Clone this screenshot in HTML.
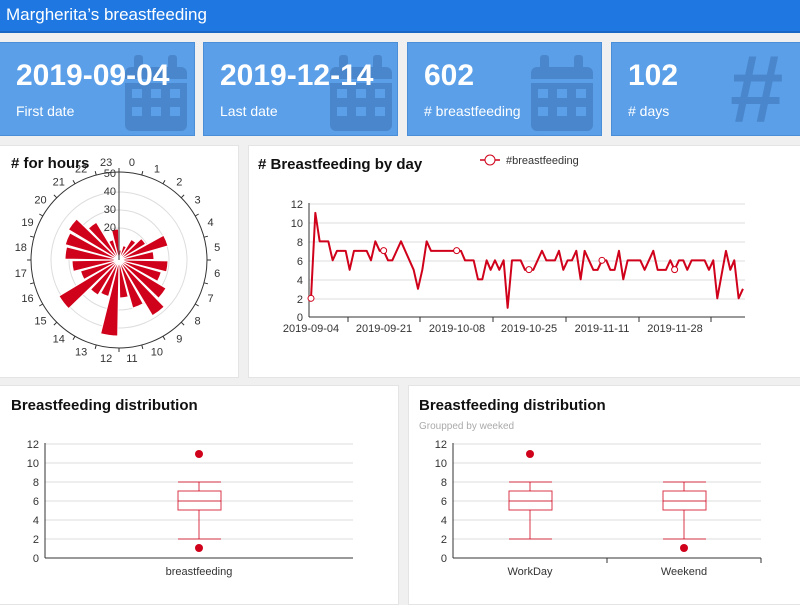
<!DOCTYPE html>
<html><head><meta charset="utf-8"><style>
*{margin:0;padding:0;box-sizing:border-box}
body{width:800px;height:600px;overflow:hidden;background:#f0f0f0;font-family:"Liberation Sans",sans-serif;position:relative}
.hdr{position:absolute;left:0;top:0;width:800px;height:33px;background:#1f78e1;border-bottom:2px solid #1a66c4;color:#fff;font-size:17px;padding:5px 6px}
.card{position:absolute;top:42px;height:94px;background:#5a9fe8;border:1px solid #4a8ed8;color:#fff;overflow:hidden}
.card .v{position:absolute;left:16px;top:16px;font-size:30px;font-weight:bold}
.card .l{position:absolute;left:16px;top:60px;font-size:14px}
.ic{position:absolute;top:12px}
.pan{position:absolute;background:#fff;border:1px solid #e4e4e4}
.t{position:absolute;font-weight:bold;font-size:16px;color:#111}
svg text{font-family:"Liberation Sans",sans-serif}
</style></head><body>
<div class="hdr">Margherita’s breastfeeding</div>
<div class="card" style="left:-1px;width:196px"><svg class="ic" style="left:120px" width="76" height="80"><g fill="#4a86cc"><rect x="5" y="12" width="62" height="64" rx="6"/><rect x="14" y="0" width="9" height="16" rx="3"/><rect x="48" y="0" width="9" height="16" rx="3"/></g><g fill="#5a9fe8"><rect x="5" y="24" width="62" height="4"/><rect x="12" y="34" width="10" height="9"/><rect x="31" y="34" width="10" height="9"/><rect x="50" y="34" width="10" height="9"/><rect x="12" y="52" width="10" height="9"/><rect x="31" y="52" width="10" height="9"/><rect x="50" y="52" width="10" height="9"/></g></svg><div class="v">2019-09-04</div><div class="l">First date</div></div>
<div class="card" style="left:203px;width:195px"><svg class="ic" style="left:121px" width="76" height="80"><g fill="#4a86cc"><rect x="5" y="12" width="62" height="64" rx="6"/><rect x="14" y="0" width="9" height="16" rx="3"/><rect x="48" y="0" width="9" height="16" rx="3"/></g><g fill="#5a9fe8"><rect x="5" y="24" width="62" height="4"/><rect x="12" y="34" width="10" height="9"/><rect x="31" y="34" width="10" height="9"/><rect x="50" y="34" width="10" height="9"/><rect x="12" y="52" width="10" height="9"/><rect x="31" y="52" width="10" height="9"/><rect x="50" y="52" width="10" height="9"/></g></svg><div class="v">2019-12-14</div><div class="l">Last date</div></div>
<div class="card" style="left:407px;width:195px"><svg class="ic" style="left:118px" width="76" height="80"><g fill="#4a86cc"><rect x="5" y="12" width="62" height="64" rx="6"/><rect x="14" y="0" width="9" height="16" rx="3"/><rect x="48" y="0" width="9" height="16" rx="3"/></g><g fill="#5a9fe8"><rect x="5" y="24" width="62" height="4"/><rect x="12" y="34" width="10" height="9"/><rect x="31" y="34" width="10" height="9"/><rect x="50" y="34" width="10" height="9"/><rect x="12" y="52" width="10" height="9"/><rect x="31" y="52" width="10" height="9"/><rect x="50" y="52" width="10" height="9"/></g></svg><div class="v">602</div><div class="l"># breastfeeding</div></div>
<div class="card" style="left:611px;width:195px"><div style="position:absolute;left:118px;top:-8px;font-size:96px;font-weight:bold;color:#4a86cc">#</div><div class="v">102</div><div class="l"># days</div></div>

<div class="pan" style="left:-1px;top:145px;width:240px;height:233px"></div>
<div class="pan" style="left:248px;top:145px;width:560px;height:233px"></div>
<div class="pan" style="left:-1px;top:385px;width:400px;height:220px"></div>
<div class="pan" style="left:408px;top:385px;width:400px;height:220px"></div>

<svg style="position:absolute;left:0;top:0" width="800" height="600">
<g id="rose" transform="translate(119,260)">
<g fill="none" stroke="#ddd"><circle r="32"/><circle r="50"/><circle r="68"/></g>
<g fill="#d0021b" stroke="#fff" stroke-width="1" id="w"></g>
<circle r="88" fill="none" stroke="#333"/>
<line x1="0" y1="0" x2="0" y2="-88" stroke="#333"/>
<g font-size="11" fill="#333" text-anchor="end"><text x="-3" y="-83">50</text><text x="-3" y="-65">40</text><text x="-3" y="-47">30</text><text x="-3" y="-29">20</text></g>
<g id="hl" font-size="11" fill="#333" text-anchor="middle"></g>
</g>
<text x="11" y="168" font-size="15" font-weight="bold" fill="#111"># for hours</text>

<text x="258" y="169" font-size="15" font-weight="bold" fill="#111"># Breastfeeding by day</text>
<line x1="480" y1="160" x2="500" y2="160" stroke="#d0021b" stroke-width="1.5"/><circle cx="490" cy="160" r="5" fill="#fff" stroke="#d0021b"/>
<text x="506" y="164" font-size="11" fill="#333">#breastfeeding</text>
<g stroke="#ddd"><line x1="309" x2="745" y1="204" y2="204"/><line x1="309" x2="745" y1="223" y2="223"/><line x1="309" x2="745" y1="242" y2="242"/><line x1="309" x2="745" y1="261" y2="261"/><line x1="309" x2="745" y1="280" y2="280"/><line x1="309" x2="745" y1="299" y2="299"/></g>
<line x1="309" x2="745" y1="317" y2="317" stroke="#333"/><line x1="309" x2="309" y1="203" y2="317" stroke="#333"/>
<g font-size="11" fill="#333" text-anchor="end"><text x="303" y="208">12</text><text x="303" y="227">10</text><text x="303" y="246">8</text><text x="303" y="265">6</text><text x="303" y="284">4</text><text x="303" y="303">2</text><text x="303" y="321">0</text></g>
<g stroke="#333"><line x1="348" x2="348" y1="317" y2="322"/><line x1="420" x2="420" y1="317" y2="322"/><line x1="493" x2="493" y1="317" y2="322"/><line x1="566" x2="566" y1="317" y2="322"/><line x1="639" x2="639" y1="317" y2="322"/><line x1="711" x2="711" y1="317" y2="322"/></g>
<g font-size="11" fill="#333" text-anchor="middle"><text x="311" y="332">2019-09-04</text><text x="384" y="332">2019-09-21</text><text x="457" y="332">2019-10-08</text><text x="529" y="332">2019-10-25</text><text x="602" y="332">2019-11-11</text><text x="675" y="332">2019-11-28</text></g>
<g transform="translate(250,180) scale(0.3333)">
<polyline id="ln" fill="none" stroke="#d0021b" stroke-width="6" stroke-linejoin="round"/>
<g fill="#fff" stroke="#d0021b" stroke-width="3"><circle cx="183" cy="355" r="9"/><circle cx="401" cy="212" r="9"/><circle cx="620" cy="212" r="9"/><circle cx="837" cy="269" r="9"/><circle cx="1056" cy="241" r="9"/><circle cx="1274" cy="269" r="9"/></g>
</g>

<text x="11" y="410" font-size="15" font-weight="bold" fill="#111">Breastfeeding distribution</text>
<g stroke="#ddd"><line x1="45" x2="353" y1="444" y2="444"/><line x1="45" x2="353" y1="463" y2="463"/><line x1="45" x2="353" y1="482" y2="482"/><line x1="45" x2="353" y1="501" y2="501"/><line x1="45" x2="353" y1="520" y2="520"/><line x1="45" x2="353" y1="539" y2="539"/></g>
<line x1="45" x2="353" y1="558" y2="558" stroke="#333"/><line x1="45" x2="45" y1="443" y2="558" stroke="#333"/>
<g font-size="11" fill="#333" text-anchor="end"><text x="39" y="448">12</text><text x="39" y="467">10</text><text x="39" y="486">8</text><text x="39" y="505">6</text><text x="39" y="524">4</text><text x="39" y="543">2</text><text x="39" y="562">0</text></g>
<text x="199" y="575" font-size="11" fill="#333" text-anchor="middle">breastfeeding</text>
<g fill="none" stroke="#d0021b" stroke-opacity=".8"><rect x="178" y="491" width="43" height="19"/><line x1="178" x2="221" y1="501" y2="501"/><line x1="199" x2="199" y1="482" y2="491"/><line x1="199" x2="199" y1="510" y2="539"/><line x1="178" x2="221" y1="482" y2="482"/><line x1="178" x2="221" y1="539" y2="539"/></g>
<circle cx="199" cy="454" r="4" fill="#d0021b"/><circle cx="199" cy="548" r="4" fill="#d0021b"/>

<text x="419" y="410" font-size="15" font-weight="bold" fill="#111">Breastfeeding distribution</text>
<text x="419" y="429" font-size="10" fill="#aaa">Groupped by weeked</text>
<g stroke="#ddd"><line x1="453" x2="761" y1="444" y2="444"/><line x1="453" x2="761" y1="463" y2="463"/><line x1="453" x2="761" y1="482" y2="482"/><line x1="453" x2="761" y1="501" y2="501"/><line x1="453" x2="761" y1="520" y2="520"/><line x1="453" x2="761" y1="539" y2="539"/></g>
<line x1="453" x2="761" y1="558" y2="558" stroke="#333"/><line x1="453" x2="453" y1="443" y2="558" stroke="#333"/>
<g stroke="#333"><line x1="607" x2="607" y1="558" y2="563"/><line x1="761" x2="761" y1="558" y2="563"/></g>
<g font-size="11" fill="#333" text-anchor="end"><text x="447" y="448">12</text><text x="447" y="467">10</text><text x="447" y="486">8</text><text x="447" y="505">6</text><text x="447" y="524">4</text><text x="447" y="543">2</text><text x="447" y="562">0</text></g>
<g font-size="11" fill="#333" text-anchor="middle"><text x="530" y="575">WorkDay</text><text x="684" y="575">Weekend</text></g>
<g fill="none" stroke="#d0021b" stroke-opacity=".8"><rect x="509" y="491" width="43" height="19"/><line x1="509" x2="552" y1="501" y2="501"/><line x1="530" x2="530" y1="482" y2="491"/><line x1="530" x2="530" y1="510" y2="539"/><line x1="509" x2="552" y1="482" y2="482"/><line x1="509" x2="552" y1="539" y2="539"/>
<rect x="663" y="491" width="43" height="19"/><line x1="663" x2="706" y1="501" y2="501"/><line x1="684" x2="684" y1="482" y2="491"/><line x1="684" x2="684" y1="510" y2="539"/><line x1="663" x2="706" y1="482" y2="482"/><line x1="663" x2="706" y1="539" y2="539"/></g>
<circle cx="530" cy="454" r="4" fill="#d0021b"/><circle cx="684" cy="548" r="4" fill="#d0021b"/>
</svg>
<script>
var L=[10,15,24,31,51,35,49,44,55,65,50,38,76,38,41,70,40,47,54,56,59,44,21,31];
var w=document.getElementById('w'),h='',hl='',ns='';
for(var i=0;i<24;i++){var a0=(i*15+1)*Math.PI/180,a1=((i+1)*15-1)*Math.PI/180,r=L[i];
h+='<path d="M0 0L'+(r*Math.sin(a0)).toFixed(1)+' '+(-r*Math.cos(a0)).toFixed(1)+'A'+r+' '+r+' 0 0 1 '+(r*Math.sin(a1)).toFixed(1)+' '+(-r*Math.cos(a1)).toFixed(1)+'Z"/>';
var am=(i*15+7.5)*Math.PI/180;hl+='<text x="'+(99*Math.sin(am)).toFixed(1)+'" y="'+(-99*Math.cos(am)+4).toFixed(1)+'">'+i+'</text>';
var at=i*15*Math.PI/180;ns+='<line x1="'+(88*Math.sin(at)).toFixed(1)+'" y1="'+(-88*Math.cos(at)).toFixed(1)+'" x2="'+(92*Math.sin(at)).toFixed(1)+'" y2="'+(-92*Math.cos(at)).toFixed(1)+'" stroke="#333"/>';}
w.innerHTML=h;document.getElementById('hl').innerHTML=hl+ns;
var P=[[183,2],[196,11],[209,8],[235,8],[248,6],[261,7],[287,7],[299,5],[312,7],[350,7],[363,6],[376,8],[389,7],[401,7],[414,6],[427,6],[453,8],[491,5],[504,3],[517,5],[530,8],[543,7],[620,7],[633,7],[645,6],[671,6],[684,4],[697,4],[710,6],[722,5],[735,6],[748,5],[761,6],[773,1],[786,6],[812,6],[825,5],[850,5],[876,7],[889,6],[915,6],[927,7],[940,5],[953,6],[966,6],[979,7],[992,4],[1004,7],[1030,5],[1043,5],[1056,6],[1069,6],[1081,5],[1094,5],[1107,7],[1120,4],[1133,6],[1171,6],[1184,5],[1210,7],[1223,5],[1248,5],[1261,6],[1274,5],[1287,6],[1300,6],[1312,5],[1325,6],[1364,6],[1377,5],[1390,6],[1402,2],[1428,7],[1441,5],[1453,6],[1466,2],[1479,3]];
document.getElementById('ln').setAttribute('points',P.map(function(p){return p[0]+','+(412-28.5*p[1]).toFixed(1)}).join(' '));
</script>
</body></html>
